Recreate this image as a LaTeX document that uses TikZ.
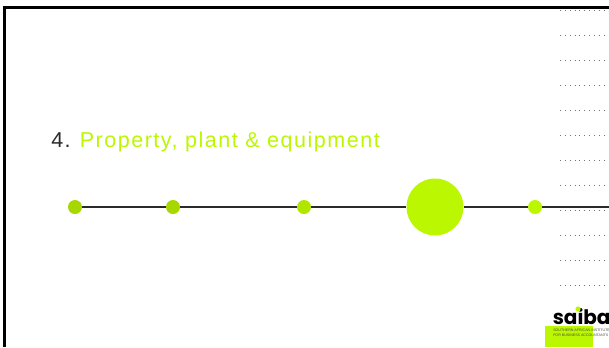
\documentclass[tikz,border=0pt]{standalone}
\usepackage{fontspec}
\setmainfont{Liberation Sans}
\newfontfamily\spaced[LetterSpace=7]{Liberation Sans}
\newfontfamily\logofont{Poppins}
\definecolor{limea}{HTML}{A6D800}
\definecolor{limeb}{HTML}{B2E600}
\definecolor{limec}{HTML}{BBF700}
\definecolor{inkc}{HTML}{2A2A2A}
\tikzset{
  x=0.75pt,y=-0.75pt,
  frameline/.style={line width=2.25pt,black},
  axisline/.style={line width=1.1pt,inkc},
  dotrow/.style={line width=1.3pt,black!55,dash pattern=on 0.6pt off 3.04pt},
  stopmark/.style={circle,inner sep=0pt,minimum size=#1*0.75pt,draw=none},
  logotext/.style={anchor=base west,inner sep=0pt,font=\fontsize{2.7pt}{3pt}\selectfont,text=black!70},
}
\begin{document}
\begin{tikzpicture}
\useasboundingbox (0,0) rectangle (609,347);
% frame
\coordinate (fa) at (4,347); \coordinate (fb) at (4,7); \coordinate (fc) at (609,7);
\draw[frameline] (fa) -- (fb) -- (fc);
% dotted rows
\foreach \yy in {10.5,35.5,60.5,85.5,110.5,135.5,160.5,185.5,210.5,235.5,260.5,285.5}{
  \coordinate (da) at (560,\yy); \coordinate (db) at (609,\yy);
  \draw[dotrow] (da) -- (db);
}
% timeline
\coordinate (lineend) at (609,207);
\node[stopmark=14,fill=limea] (s1) at (75,207) {};
\node[stopmark=14,fill=limea] (s2) at (173,207) {};
\node[stopmark=14,fill=limeb] (s3) at (304,207) {};
\node[stopmark=57,fill=limec] (s4) at (435,207) {};
\node[stopmark=14,fill=limec] (s5) at (535,207) {};
\draw[axisline] (s1) -- (s2);
\draw[axisline] (s2) -- (s3);
\draw[axisline] (s3) -- (s4);
\draw[axisline] (s4) -- (s5);
\draw[axisline] (s5) -- (lineend);
% title
\node[anchor=base west,inner sep=0pt,font=\fontsize{16.15pt}{18pt}\spaced] (title) at (51,147)
  {\textcolor{inkc}{4.}\hspace{-0.7pt} \textcolor{limec}{Property, plant \& equipment}};
% logo
\fill[limec] (545,326) rectangle (593,347);
\node[anchor=base west,inner sep=0pt,font=\fontsize{15pt}{18pt}\logofont\bfseries] (logo) at (552.5,324.5) {saiba};
\fill[limec] (578,309) circle (2.6);
\node[logotext] (lt1) at (553,331) {SOUTHERN AFRICAN INSTITUTE};
\node[logotext] (lt2) at (553,336.5) {FOR BUSINESS ACCOUNTANTS};
\end{tikzpicture}
\end{document}
